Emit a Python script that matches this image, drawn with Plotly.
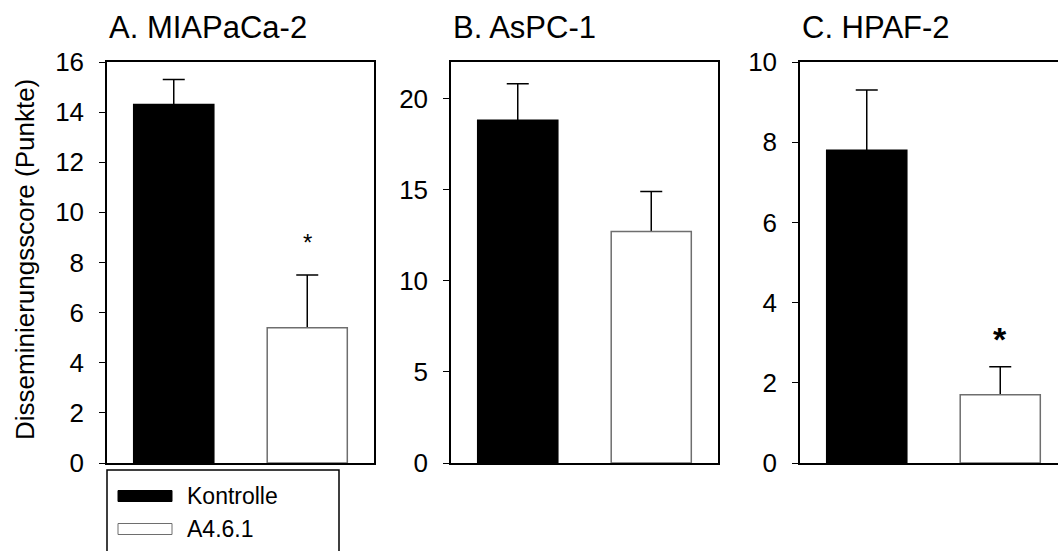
import plotly.graph_objects as go

# ---------------- data ----------------
panels = ["A. MIAPaCa-2", "B. AsPC-1", "C. HPAF-2"]
groups = ["Kontrolle", "A4.6.1"]
kontrolle_mean = [14.3, 18.8, 7.8]
kontrolle_err = [1.0, 2.0, 1.5]
a461_mean = [5.4, 12.7, 1.7]
a461_err = [2.1, 2.2, 0.7]
star_text = ["*", "", "*"]
star_y = [8.8, None, 3.1]
y_max = [16, 22, 10]
y_ticks = [[0, 2, 4, 6, 8, 10, 12, 14, 16], [0, 5, 10, 15, 20], [0, 2, 4, 6, 8, 10]]
y_title = "Disseminierungsscore (Punkte)"

# ---------------- layout helpers ----------------
W, H, T, B = 1058, 551, 62, 88
PH = H - T - B
FONT = "Liberation Sans, Arial, sans-serif"


def px(x):
    return x / W


def py(y):
    return (H - B - y) / PH


domains = [[px(107), px(374)], [px(451), px(718)], [px(800), 1.0]]
x_ranges = [[-0.5, 1.5], [-0.5, 1.5], [-0.5, -0.5 + 258 / 133.5]]

fig = go.Figure()
annotations = []
shapes = []

series = [
    (groups[0], kontrolle_mean, kontrolle_err, "black", "black", 0),
    (groups[1], a461_mean, a461_err, "white", "#6e6e6e", 1),
]

for i in range(3):
    xa = "x" if i == 0 else f"x{i+1}"
    ya = "y" if i == 0 else f"y{i+1}"
    for name, means, errs, fc, lc, xpos in series:
        # error bar drawn first; its lower half is hidden behind the bar drawn afterwards
        fig.add_trace(go.Bar(
            x=[xpos], y=[means[i]], name=name, width=0.6,
            marker=dict(color="rgba(0,0,0,0)", line=dict(width=0)),
            error_y=dict(type="data", symmetric=True, array=[errs[i]],
                         color="black", thickness=1.5, width=11),
            xaxis=xa, yaxis=ya, showlegend=False, hoverinfo="skip"))
    for name, means, errs, fc, lc, xpos in series:
        fig.add_trace(go.Bar(
            x=[xpos], y=[means[i]], name=name, width=0.6,
            marker=dict(color=fc, line=dict(color=lc, width=1.5)),
            xaxis=xa, yaxis=ya, showlegend=False))

    xkey = "xaxis" if i == 0 else f"xaxis{i+1}"
    ykey = "yaxis" if i == 0 else f"yaxis{i+1}"
    fig.update_layout(**{
        xkey: dict(domain=domains[i], range=x_ranges[i], showgrid=False, zeroline=False,
                   showticklabels=False, ticks="", showline=True, linecolor="black",
                   linewidth=1.5, mirror=True, anchor=ya, fixedrange=True),
        ykey: dict(domain=[0, 1], range=[0, y_max[i]], tickvals=y_ticks[i], showgrid=False,
                   zeroline=False, ticks="outside", ticklen=6, tickwidth=1.2, tickcolor="black",
                   showline=True, linecolor="black", linewidth=1.5,
                   mirror=(i < 2), anchor=xa, ticklabelstandoff=10,
                   tickfont=dict(family=FONT, size=26, color="black"), fixedrange=True),
    })

    # panel title
    annotations.append(dict(text=panels[i], xref=f"{xa} domain", x=0, xanchor="left",
                            yref="paper", y=py(27), yanchor="middle", showarrow=False,
                            font=dict(family=FONT, size=31, color="black")))
    # significance star
    if star_text[i]:
        big = i == 2
        annotations.append(dict(text=f"<b>{star_text[i]}</b>" if big else star_text[i],
                                xref=xa, yref=ya, x=1, y=star_y[i], showarrow=False,
                                font=dict(family=FONT, size=34 if big else 24, color="black")))

# y axis title
annotations.append(dict(text=y_title, xref="paper", yref="paper", x=px(25), y=py(260),
                        textangle=-90, showarrow=False, xanchor="center", yanchor="middle",
                        font=dict(family=FONT, size=26, color="black")))

# legend (drawn manually to match the long swatches)
shapes.append(dict(type="rect", xref="paper", yref="paper", x0=px(107), x1=px(339),
                   y0=py(470), y1=py(575), line=dict(color="black", width=1.5),
                   fillcolor="white", layer="above"))
leg_y = [496, 529]
leg_fill = ["black", "white"]
leg_line = ["black", "#6e6e6e"]
for g, yy, fc, lc in zip(groups, leg_y, leg_fill, leg_line):
    shapes.append(dict(type="rect", xref="paper", yref="paper", x0=px(118), x1=px(172),
                       y0=py(yy - 5.5), y1=py(yy + 5.5), line=dict(color=lc, width=1),
                       fillcolor=fc, layer="above"))
    annotations.append(dict(text=g, xref="paper", yref="paper", x=px(185), y=py(yy),
                            xanchor="left", yanchor="middle", showarrow=False,
                            font=dict(family=FONT, size=23, color="black")))

fig.update_layout(
    width=W, height=H, margin=dict(l=0, r=0, t=T, b=B),
    paper_bgcolor="white", plot_bgcolor="white",
    barmode="overlay", showlegend=False,
    annotations=annotations, shapes=shapes,
    font=dict(family=FONT, color="black"),
)

fig.write_html("out.html")
